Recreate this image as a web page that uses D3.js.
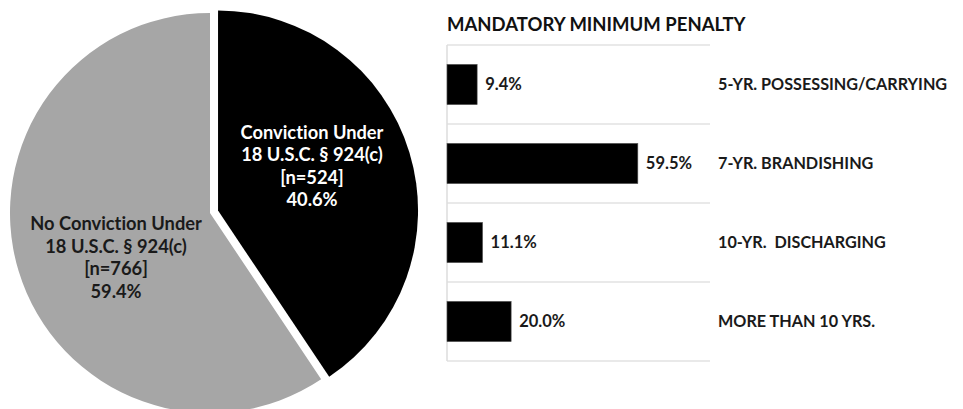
<!DOCTYPE html>
<html>
<head>
<meta charset="utf-8">
<script src="https://cdn.jsdelivr.net/npm/d3@7"></script>
<style>
  body { margin: 0; background: #fff; }
  svg { display: block; font-family: Lato, 'Open Sans', sans-serif; font-weight: bold; font-variant-ligatures: none; }
</style>
</head>
<body>
<div id="chart"></div>
<script>
// pie data
const pieNames = ['Conviction Under', 'No Conviction Under'];
const pieCounts = [524, 766];
const piePercents = ['40.6%', '59.4%'];
const pieColors = ['#000000', '#a6a6a6'];
const pieTextColors = ['#ffffff', '#1a1a1a'];
const pieExplode = [8.4, 0];

// bar data
const penaltyLabels = [
    '5-YR. POSSESSING/CARRYING',
    '7-YR. BRANDISHING',
    '10-YR.  DISCHARGING',
    'MORE THAN 10 YRS.',
];
const penaltyValues = [9.4, 59.5, 11.1, 20.0];

const width = 963;
const height = 409;

const svg = d3
    .select('#chart')
    .append('svg')
    .attr('width', width)
    .attr('height', height);

// pie
const radius = 200;
const pieGroup = svg.append('g').attr('transform', 'translate(210, 213)');

const pie = d3.pie().sort(null).value((d) => d);
const arcs = pie(pieCounts);
const arc = d3.arc().innerRadius(0).outerRadius(radius);

function dirOf(a) {
    return [Math.sin(a), -Math.cos(a)];
}

const slices = pieGroup
    .selectAll('g.slice')
    .data(arcs)
    .enter()
    .append('g')
    .attr('class', 'slice')
    .attr('transform', (d, i) => {
        const [dx, dy] = dirOf((d.startAngle + d.endAngle) / 2);
        return `translate(${dx * pieExplode[i]}, ${dy * pieExplode[i]})`;
    });

slices
    .append('path')
    .attr('d', arc)
    .attr('fill', (d, i) => pieColors[i]);

// labels, a bit rotated back from the bisector
const labelRadius = 104;
const labelTurn = -0.148;
const lineHeight = 22.5;

slices.each(function (d, i) {
    const [dx, dy] = dirOf((d.startAngle + d.endAngle) / 2 + labelTurn);
    const cx = dx * labelRadius;
    const cy = dy * labelRadius;
    const lines = [
        pieNames[i],
        '18 U.S.C. § 924(c)',
        `[n=${pieCounts[i]}]`,
        piePercents[i],
    ];
    const text = d3
        .select(this)
        .append('text')
        .attr('text-anchor', 'middle')
        .attr('font-size', 18.3)
        .attr('fill', pieTextColors[i]);
    lines.forEach((line, j) => {
        text.append('tspan')
            .attr('x', cx)
            .attr('y', cy + (j - (lines.length - 1) / 2) * lineHeight + 6.5)
            .text(line);
    });
});

// bar chart
const barLeft = 447;
const barTop = 45;
const plotWidth = 263;
const bandStep = 79;

const x = d3.scaleLinear().domain([0, 82]).range([0, plotWidth]);
const y = d3
    .scaleBand()
    .domain(penaltyLabels)
    .range([0, bandStep * penaltyLabels.length])
    .paddingInner(0.49)
    .paddingOuter(0.245);

const barGroup = svg
    .append('g')
    .attr('transform', `translate(${barLeft}, ${barTop})`);

svg.append('text')
    .attr('x', barLeft)
    .attr('y', 31)
    .attr('font-size', 18.5)
    .attr('fill', '#111')
    .text('MANDATORY MINIMUM PENALTY');

// horizontal gridlines between categories
const gridYs = d3.range(penaltyLabels.length + 1).map((i) => i * bandStep);
barGroup
    .selectAll('line.grid')
    .data(gridYs)
    .enter()
    .append('line')
    .attr('class', 'grid')
    .attr('x1', 0)
    .attr('x2', plotWidth)
    .attr('y1', (d) => d)
    .attr('y2', (d) => d)
    .attr('stroke', '#e2e2e2')
    .attr('stroke-width', 1.5);

barGroup
    .append('line')
    .attr('x1', 0)
    .attr('x2', 0)
    .attr('y1', 0)
    .attr('y2', bandStep * penaltyLabels.length)
    .attr('stroke', '#dcdcdc')
    .attr('stroke-width', 1.5);

barGroup
    .selectAll('rect')
    .data(penaltyValues)
    .enter()
    .append('rect')
    .attr('x', 0)
    .attr('y', (d, i) => y(penaltyLabels[i]))
    .attr('width', (d) => x(d))
    .attr('height', y.bandwidth())
    .attr('fill', '#000')
    .attr('stroke', '#595959')
    .attr('stroke-width', 0.6);

barGroup
    .selectAll('text.value')
    .data(penaltyValues)
    .enter()
    .append('text')
    .attr('class', 'value')
    .attr('x', (d) => x(d) + 8)
    .attr('y', (d, i) => y(penaltyLabels[i]) + y.bandwidth() / 2)
    .attr('dy', '0.36em')
    .attr('font-size', 16.5)
    .attr('fill', '#1a1a1a')
    .text((d) => d.toFixed(1) + '%');

barGroup
    .selectAll('text.cat')
    .data(penaltyLabels)
    .enter()
    .append('text')
    .attr('class', 'cat')
    .attr('x', 271)
    .attr('y', (d) => y(d) + y.bandwidth() / 2)
    .attr('dy', '0.36em')
    .attr('font-size', 16.2)
    .attr('fill', '#1a1a1a')
    .style('white-space', 'pre')
    .text((d) => d);
</script>
</body>
</html>
